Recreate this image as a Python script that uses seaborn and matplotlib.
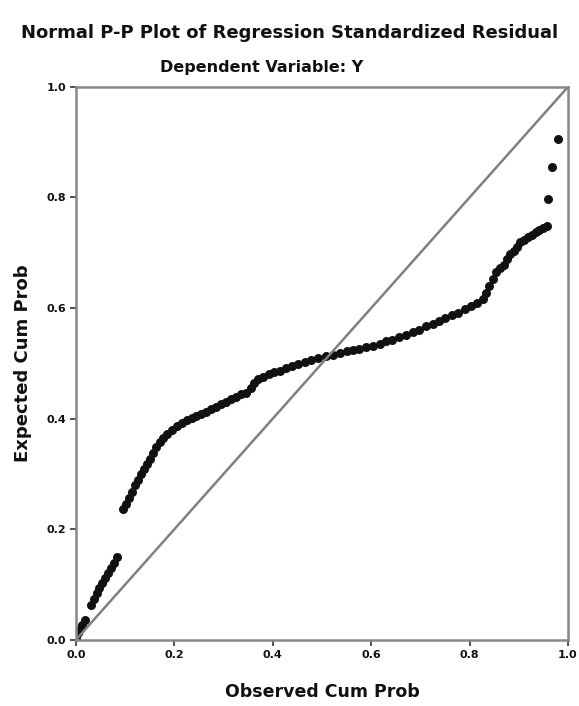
import matplotlib
matplotlib.use("Agg")
import matplotlib.pyplot as plt
import seaborn as sns
import pandas as pd

title = "Normal P-P Plot of Regression Standardized Residual"
subtitle = "Dependent Variable: Y"
xlabel = "Observed Cum Prob"
ylabel = "Expected Cum Prob"
tick_vals = [0.0, 0.2, 0.4, 0.6, 0.8, 1.0]
tick_labels = ["0.0", "0.2", "0.4", "0.6", "0.8", "1.0"]

observed = [0.000, 0.004, 0.008, 0.013, 0.018,
            0.030, 0.036, 0.042, 0.048, 0.054, 0.060, 0.066, 0.072, 0.078, 0.084,
            0.096, 0.102, 0.108, 0.114, 0.120, 0.126, 0.132, 0.138, 0.144, 0.150, 0.156, 0.162,
            0.170, 0.178, 0.186, 0.195, 0.205, 0.215, 0.225, 0.235, 0.245, 0.255, 0.265, 0.275,
            0.285, 0.295, 0.305, 0.315, 0.325, 0.335, 0.345, 0.355, 0.363, 0.371, 0.381, 0.392,
            0.403, 0.414, 0.426, 0.439, 0.452, 0.465, 0.478, 0.492, 0.508, 0.522, 0.536, 0.550,
            0.563, 0.576, 0.590, 0.604, 0.617, 0.630, 0.643, 0.657, 0.671, 0.685, 0.698, 0.712,
            0.725, 0.738, 0.751, 0.764, 0.777, 0.790, 0.803, 0.815, 0.827, 0.833, 0.840, 0.847,
            0.854, 0.862, 0.869, 0.876, 0.883, 0.890, 0.896, 0.902, 0.910, 0.918, 0.926, 0.934,
            0.942, 0.950, 0.957,
            0.959, 0.967, 0.980]
expected = [0.004, 0.012, 0.020, 0.028, 0.036,
            0.064, 0.075, 0.085, 0.094, 0.103, 0.112, 0.121, 0.130, 0.139, 0.150,
            0.236, 0.246, 0.257, 0.268, 0.280, 0.290, 0.300, 0.309, 0.318, 0.328, 0.338, 0.348,
            0.358, 0.366, 0.373, 0.380, 0.387, 0.393, 0.398, 0.402, 0.405, 0.409, 0.413, 0.418,
            0.422, 0.427, 0.431, 0.436, 0.440, 0.444, 0.447, 0.456, 0.464, 0.471, 0.476, 0.480,
            0.484, 0.487, 0.491, 0.495, 0.499, 0.503, 0.507, 0.510, 0.513, 0.516, 0.519, 0.522,
            0.524, 0.526, 0.529, 0.532, 0.536, 0.540, 0.543, 0.547, 0.551, 0.556, 0.561, 0.567,
            0.572, 0.577, 0.582, 0.587, 0.592, 0.598, 0.604, 0.610, 0.616, 0.628, 0.640, 0.653,
            0.665, 0.672, 0.678, 0.688, 0.697, 0.704, 0.711, 0.719, 0.724, 0.728, 0.733, 0.737,
            0.741, 0.744, 0.748,
            0.797, 0.855, 0.906]
diag = [0.0, 1.0]

sns.set_style("ticks")
plt.rcParams['font.family'] = ['DejaVu Sans']
plt.rcParams['text.color'] = '#111111'

fig = plt.figure(figsize=(5.79, 7.06), dpi=100)
ax = fig.add_axes([0.131, 0.0935, 0.850, 0.7835])

df = pd.DataFrame({"obs": observed, "exp": expected})
sns.lineplot(x=diag, y=diag, ax=ax, color="#808080", linewidth=1.8)
sns.scatterplot(data=df, x="obs", y="exp", ax=ax, color="#111111", s=42,
                edgecolor="#111111", linewidth=0)

ax.set_xlim(0, 1)
ax.set_ylim(0, 1)
ax.set_xticks(tick_vals)
ax.set_xticklabels(tick_labels, fontsize=8, fontweight="bold", color="#111111")
ax.set_yticks(tick_vals)
ax.set_yticklabels(tick_labels, fontsize=8, fontweight="bold", color="#111111")
ax.tick_params(length=4, width=1.2, color="#333333", pad=3)
for sp in ax.spines.values():
    sp.set_color("#888888")
    sp.set_linewidth(1.8)

ax.set_xlabel(xlabel, fontsize=12.5, fontweight="bold", labelpad=17, color="#111111")
ax.set_ylabel(ylabel, fontsize=13, fontweight="bold", labelpad=10, color="#111111")

fig.text(0.5, 0.953, title, ha="center", va="center", fontsize=13, fontweight="bold")
fig.text(0.452, 0.905, subtitle, ha="center", va="center", fontsize=11.5, fontweight="bold")

fig.savefig("out.png", dpi=100, facecolor="white")
